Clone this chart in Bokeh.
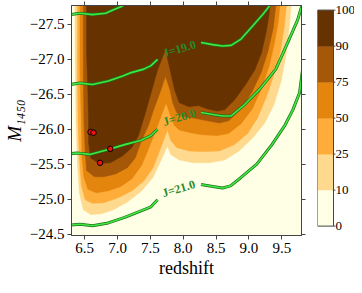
from bokeh.plotting import figure
from bokeh.models import Range1d, LinearAxis, FixedTicker, ColumnDataSource, CustomLabelingPolicy
from bokeh.layouts import row
from bokeh.embed import file_html
from bokeh.resources import INLINE
from bokeh.core.properties import value

# ---------------- data ----------------
levels = [0, 10, 25, 50, 75, 90, 100]
level_colors = ["#FFFFE5", "#FED98E", "#FEAD3A", "#E4850E", "#A55808", "#663300"]

# boundaries of the regions with completeness >= level  (redshift, M1450)
c10_z = [6.35, 6.36, 6.37, 6.39, 6.42, 6.48, 6.59, 6.75, 6.94, 7.15, 7.37, 7.54, 7.66, 7.76, 7.81,
         7.94, 8.16, 8.40, 8.63, 8.85, 9.06, 9.24, 9.38, 9.49, 9.57, 9.62, 9.65]
c10_m = [-27.88, -26.81, -26.09, -25.52, -25.09, -24.85, -24.78, -24.79, -24.85, -24.96, -25.12, -25.31,
         -25.55, -25.76, -25.64, -25.56, -25.52, -25.52, -25.56, -25.69, -25.88, -26.09, -26.35, -26.69,
         -27.09, -27.52, -27.88]

c25_z = [6.39, 6.39, 6.40, 6.42, 6.45, 6.51, 6.62, 6.79, 7.01, 7.22, 7.40, 7.54, 7.64, 7.76, 7.81,
         7.90, 8.09, 8.30, 8.55, 8.78, 8.98, 9.13, 9.26, 9.38, 9.48, 9.54, 9.57, 9.58]
c25_m = [-27.88, -26.81, -26.09, -25.59, -25.19, -24.99, -24.94, -24.95, -25.02, -25.12, -25.26, -25.45,
         -25.69, -25.99, -25.84, -25.74, -25.69, -25.68, -25.69, -25.78, -25.94, -26.16, -26.45, -26.78,
         -27.12, -27.49, -27.78, -27.88]

c50_z = [6.43, 6.43, 6.45, 6.46, 6.49, 6.55, 6.68, 6.86, 7.05, 7.22, 7.37, 7.48, 7.57, 7.66, 7.74,
         7.80, 7.86, 7.94, 8.11, 8.30, 8.52, 8.69, 8.88, 9.05, 9.19, 9.31, 9.39, 9.45, 9.48]
c50_m = [-27.88, -26.81, -26.09, -25.59, -25.31, -25.14, -25.09, -25.12, -25.18, -25.29, -25.49, -25.74,
         -25.95, -26.18, -26.38, -26.21, -26.06, -25.99, -25.95, -25.92, -25.91, -25.94, -26.08, -26.29,
         -26.58, -26.91, -27.24, -27.56, -27.88]

c75_z = [6.48, 6.48, 6.49, 6.51, 6.53, 6.65, 6.79, 6.97, 7.15, 7.27, 7.37, 7.47, 7.55, 7.66, 7.73,
         7.80, 7.84, 7.90, 8.01, 8.16, 8.37, 8.55, 8.69, 8.88, 9.05, 9.19, 9.29, 9.37, 9.41, 9.42]
c75_m = [-27.88, -26.81, -26.09, -25.66, -25.41, -25.32, -25.32, -25.36, -25.45, -25.59, -25.85, -26.05,
         -26.28, -26.56, -26.76, -26.56, -26.38, -26.24, -26.18, -26.16, -26.12, -26.09, -26.12, -26.29,
         -26.54, -26.82, -27.12, -27.45, -27.78, -27.88]

c90_z = [6.53, 6.53, 6.55, 6.56, 6.56, 6.59, 6.72, 6.89, 7.08, 7.22, 7.32, 7.41, 7.51, 7.61, 7.73,
         7.80, 7.87, 7.94, 8.09, 8.23, 8.37, 8.52, 8.63, 8.78, 8.95, 9.09, 9.19, 9.26, 9.31, 9.32]
c90_m = [-27.88, -27.09, -26.52, -26.09, -25.81, -25.59, -25.51, -25.52, -25.62, -25.74, -25.91, -26.19,
         -26.52, -26.85, -27.14, -26.85, -26.56, -26.38, -26.32, -26.34, -26.29, -26.26, -26.28, -26.42,
         -26.64, -26.85, -27.09, -27.38, -27.66, -27.88]

# J-band magnitude contours (left and right of their labels)
j18_z = [6.28, 6.43, 6.62, 6.82, 6.94, 7.07, 7.15]
j18_m = [-27.64, -27.66, -27.64, -27.66, -27.71, -27.76, -27.82]
j19a_z = [6.28, 6.43, 6.62, 6.86, 7.08, 7.21, 7.40, 7.51, 7.61]
j19a_m = [-26.64, -26.66, -26.64, -26.69, -26.76, -26.81, -26.86, -26.91, -27.00]
j19b_z = [8.27, 8.45, 8.60, 8.73, 8.88, 9.06, 9.21, 9.31, 9.35]
j19b_m = [-27.24, -27.21, -27.19, -27.20, -27.29, -27.48, -27.64, -27.76, -27.82]
j20a_z = [6.28, 6.39, 6.58, 6.86, 7.11, 7.35, 7.51, 7.61]
j20a_m = [-25.65, -25.66, -25.64, -25.71, -25.78, -25.84, -25.91, -26.00]
j20b_z = [8.27, 8.45, 8.60, 8.73, 8.92, 9.16, 9.41, 9.59, 9.74, 9.81]
j20b_m = [-26.24, -26.21, -26.19, -26.19, -26.34, -26.57, -26.86, -27.24, -27.56, -27.78]
j21a_z = [6.28, 6.43, 6.62, 6.86, 7.11, 7.35, 7.51, 7.61]
j21a_m = [-24.63, -24.64, -24.62, -24.66, -24.74, -24.83, -24.89, -24.99]
j21b_z = [8.27, 8.45, 8.60, 8.72, 8.88, 9.12, 9.35, 9.55, 9.67, 9.77, 9.82]
j21b_m = [-25.21, -25.18, -25.16, -25.19, -25.31, -25.50, -25.78, -26.06, -26.28, -26.52, -26.88]

jlabel_text = ["J=19.0", "J=20.0", "J=21.0"]
jlabel_z = [7.94, 7.94, 7.93]
jlabel_m = [-27.15, -26.17, -25.15]

# known quasars
qso_z = [6.59, 6.635, 6.89, 6.735]
qso_m = [-25.96, -25.95, -25.72, -25.52]

x_ticks = [6.5, 7.0, 7.5, 8.0, 8.5, 9.0, 9.5]
x_labels = ["6.5", "7.0", "7.5", "8.0", "8.5", "9.0", "9.5"]
y_ticks = [-27.5, -27.0, -26.5, -26.0, -25.5, -25.0, -24.5]
y_labels = ["\u221227.5", "\u221227.0", "\u221226.5", "\u221226.0", "\u221225.5", "\u221225.0", "\u221224.5"]

# ---------------- styling ----------------
SERIF = "Liberation Serif"
AXC = "#444444"

p = figure(width=310, height=285, x_range=Range1d(6.3, 9.8), y_range=Range1d(-24.48, -27.77),
           output_backend="svg", toolbar_location=None,
           min_border_left=58, min_border_right=9, min_border_top=5, min_border_bottom=50,
           background_fill_color=level_colors[0], border_fill_color="white")
p.xgrid.visible = False
p.ygrid.visible = False
p.outline_line_color = AXC

src = ColumnDataSource(dict(xs=[c10_z, c25_z, c50_z, c75_z, c90_z],
                            ys=[c10_m, c25_m, c50_m, c75_m, c90_m],
                            color=level_colors[1:]))
p.patches("xs", "ys", fill_color="color", line_color="color", line_width=0.5, source=src)

for zs, ms in [(j18_z, j18_m), (j19a_z, j19a_m), (j19b_z, j19b_m), (j20a_z, j20a_m),
               (j20b_z, j20b_m), (j21a_z, j21a_m), (j21b_z, j21b_m)]:
    p.line(zs, ms, line_color="#1f6f1f", line_width=3.0)
    p.line(zs, ms, line_color="#3fe83f", line_width=1.6)

p.text(x=jlabel_z, y=jlabel_m, text=jlabel_text, angle=0.29,
       text_font=value(SERIF), text_font_style="bold", text_font_size="12px",
       text_color="#2a8a2a", text_align="center", text_baseline="middle")

p.scatter(qso_z, qso_m, size=5.5, fill_color="#ee1111", line_color="black", line_width=1)


def style_axis(ax, ticks, labels, show_labels=True):
    ax.ticker = FixedTicker(ticks=ticks)
    ax.axis_line_color = AXC
    ax.major_tick_line_color = AXC
    ax.major_tick_in = 0
    ax.major_tick_out = 4
    ax.minor_tick_line_color = None
    if show_labels:
        ax.major_label_overrides = dict(zip(ticks, labels))
        ax.major_label_text_font = SERIF
        ax.major_label_text_font_size = "15px"
        ax.major_label_text_color = "black"
        ax.major_label_standoff = 3
    else:
        ax.major_label_text_font_size = "0px"
        ax.major_label_policy = CustomLabelingPolicy(
            code="for (const i of indices) { if (i < 0) { yield i } }")
        ax.major_label_standoff = 0

style_axis(p.xaxis[0], x_ticks, x_labels)
style_axis(p.yaxis[0], y_ticks, y_labels)
p.xaxis.axis_label = "redshift"
p.yaxis.axis_label = "M\u2081\u2084\u2085\u2080"
for ax in (p.xaxis[0], p.yaxis[0]):
    ax.axis_label_text_font = SERIF
    ax.axis_label_text_font_size = "18px"
    ax.axis_label_text_font_style = "normal"
    ax.axis_label_text_color = "black"
    ax.axis_label_standoff = 2
p.yaxis[0].axis_label_text_font_style = "italic"
p.yaxis[0].axis_label_text_font_size = "19px"

top_ax = LinearAxis()
style_axis(top_ax, x_ticks, x_labels, show_labels=False)
p.add_layout(top_ax, "above")
right_ax = LinearAxis()
style_axis(right_ax, y_ticks, y_labels, show_labels=False)
p.add_layout(right_ax, "right")

# ---------------- colour bar ----------------
band = list(range(len(levels)))
cb = figure(width=44, height=285, x_range=Range1d(0, 37 / 16), y_range=Range1d(-0.2609, 6.1304),
            output_backend="svg", toolbar_location=None, x_axis_location=None, y_axis_location=None,
            min_border_left=7, min_border_right=0, min_border_top=0, min_border_bottom=40)
cb.xgrid.visible = False
cb.ygrid.visible = False
cb.outline_line_color = None
cb.quad(left=0, right=1, bottom=band[:-1], top=band[1:], fill_color=level_colors, line_color=level_colors,
        line_width=0.5)
cb.quad(left=0, right=1, bottom=band[0], top=band[-1], fill_color=None, line_color=AXC, line_width=1)
cb.segment(x0=1, x1=1.12, y0=band, y1=band, line_color=AXC, line_width=1)
cb.text(x=1.12, y=band, text=[str(v) for v in levels], text_font=value(SERIF), text_font_size="13px",
        text_color="black", text_align="left", text_baseline="middle")

layout = row(p, cb)
open("out.html", "w").write(file_html(layout, INLINE))
